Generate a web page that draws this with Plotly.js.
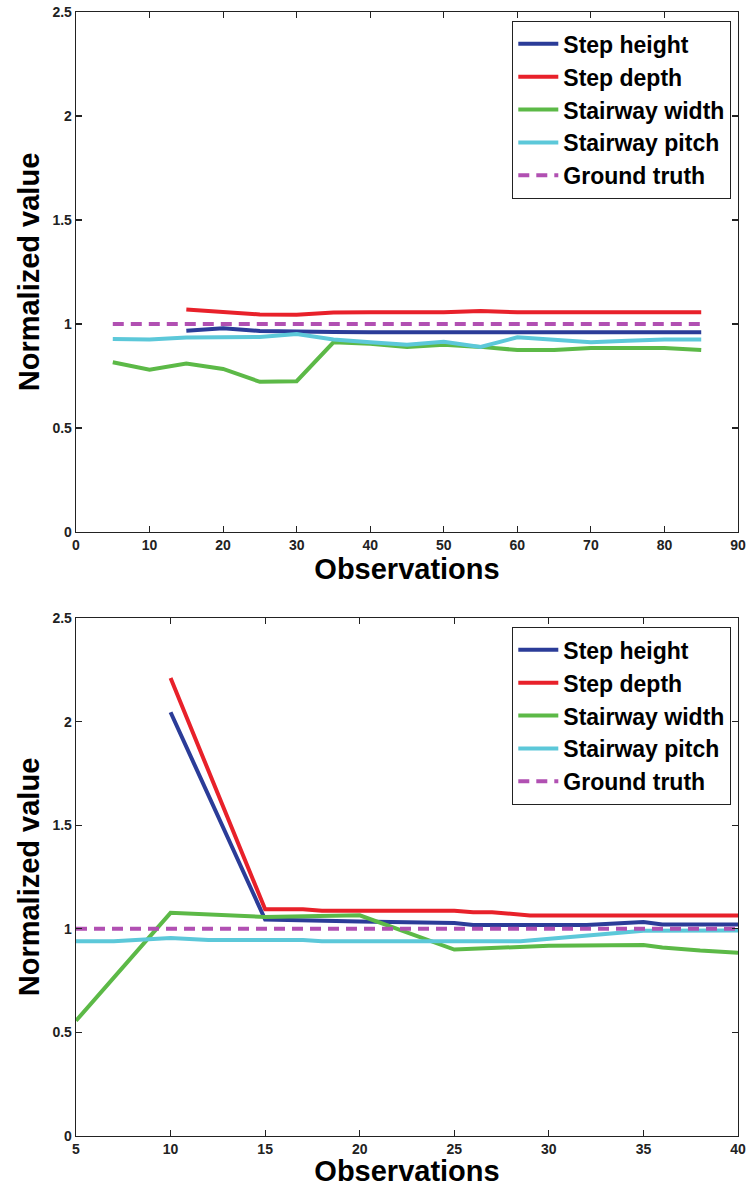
<!DOCTYPE html>
<html>
<head>
<meta charset="utf-8">
<script src="https://cdn.plot.ly/plotly-3.0.1.min.js"></script>
<style>html,body{margin:0;padding:0;background:#fff;}#chart{width:748px;height:1187px;}</style>
</head>
<body>
<div id="chart"></div>
<script>
// ---------- Top chart data ----------
const topX      = [5,10,15,20,25,30,35,40,45,50,55,60,65,70,75,80,85];
const topStepX  = [15,20,25,30,35,40,45,50,55,60,65,70,75,80,85];
const topHeight = [0.968,0.98,0.966,0.966,0.962,0.96,0.96,0.96,0.96,0.96,0.96,0.96,0.96,0.96,0.96];
const topDepth  = [1.07,1.058,1.046,1.045,1.055,1.056,1.056,1.056,1.063,1.056,1.056,1.056,1.056,1.056,1.056];
const topWidth  = [0.816,0.78,0.81,0.784,0.722,0.725,0.912,0.905,0.89,0.9,0.89,0.875,0.875,0.885,0.885,0.885,0.875];
const topPitch  = [0.928,0.925,0.935,0.936,0.938,0.952,0.925,0.912,0.9,0.915,0.89,0.936,0.925,0.912,0.92,0.926,0.926];
const topTruthX = [5,85];
const topTruth  = [1,1];

// ---------- Bottom chart data ----------
const botHeightX = [10,15,20,25,26,32,33,35,36,40];
const botHeight  = [2.045,1.045,1.035,1.028,1.018,1.018,1.023,1.033,1.021,1.021];
const botDepthX  = [10,15,17,18,25,26,27,28,29,40];
const botDepth   = [2.21,1.094,1.094,1.087,1.087,1.08,1.08,1.072,1.064,1.064];
const botWidthX  = [5,10,15,20,25,27,30,35,36,38,40];
const botWidth   = [0.556,1.077,1.057,1.065,0.9,0.908,0.918,0.922,0.91,0.895,0.885];
const botPitchX  = [5,7,10,12,17,18,28.5,30,32,34,35,40];
const botPitch   = [0.94,0.94,0.956,0.946,0.946,0.94,0.94,0.952,0.968,0.98,0.99,0.992];
const botTruthX  = [5,40];
const botTruth   = [1,1];

const names = ['Step height','Step depth','Stairway width','Stairway pitch','Ground truth'];
const yTickVals = [0,0.5,1,1.5,2,2.5];
const yTickText = ['0','0.5','1','1.5','2','2.5'];
const topTickVals = [0,10,20,30,40,50,60,70,80,90];
const botTickVals = [5,10,15,20,25,30,35,40];

const colors = ['#2b3c98','#e8212a','#5cb947','#5cc8d9','#b150b2'];
const LW = 4;
const FONT = 'Liberation Sans, Arial, Helvetica, sans-serif';

function mk(x, y, i, xa, ya, leg){
  return {
    x: x, y: y, name: names[i], type: 'scatter', mode: 'lines',
    xaxis: xa, yaxis: ya, legend: leg, legendgroup: leg + i,
    line: {color: colors[i], width: LW, dash: i === 4 ? '11px,7px' : 'solid'},
    hoverinfo: 'skip'
  };
}

const data = [
  mk(topStepX, topHeight, 0, 'x', 'y', 'legend'),
  mk(topStepX, topDepth, 1, 'x', 'y', 'legend'),
  mk(topX, topWidth, 2, 'x', 'y', 'legend'),
  mk(topX, topPitch, 3, 'x', 'y', 'legend'),
  mk(topTruthX, topTruth, 4, 'x', 'y', 'legend'),
  mk(botHeightX, botHeight, 0, 'x2', 'y2', 'legend2'),
  mk(botDepthX, botDepth, 1, 'x2', 'y2', 'legend2'),
  mk(botWidthX, botWidth, 2, 'x2', 'y2', 'legend2'),
  mk(botPitchX, botPitch, 3, 'x2', 'y2', 'legend2'),
  mk(botTruthX, botTruth, 4, 'x2', 'y2', 'legend2')
];

const H = 1187;
const tickFont = {family: FONT, size: 14, color: '#222', weight: 'bold'};
const titleFont = {family: FONT, size: 29, color: '#000', weight: 'bold'};

function xAxis(range, vals, anchor){
  return {
    range: range, tickvals: vals, ticktext: vals.map(String), domain: [0,1], anchor: anchor,
    showline: true, linecolor: '#222', linewidth: 1.3, mirror: 'ticks',
    ticks: 'inside', ticklen: 6, tickwidth: 1.2, tickcolor: '#222',
    showgrid: false, zeroline: false, tickfont: tickFont,
    title: {text: 'Observations', font: titleFont, standoff: 3},
    automargin: false
  };
}
function yAxis(dom, anchor){
  return {
    range: [0,2.5], tickvals: yTickVals, ticktext: yTickText, domain: dom, anchor: anchor,
    showline: true, linecolor: '#222', linewidth: 1.3, mirror: 'ticks',
    ticks: 'inside', ticklen: 6, tickwidth: 1.2, tickcolor: '#222',
    showgrid: false, zeroline: false, tickfont: tickFont,
    title: {text: 'Normalized value', font: titleFont, standoff: 4},
    automargin: false
  };
}
function legend(ytop){
  return {
    x: (731-76)/662, xanchor: 'right', y: ytop, yanchor: 'top',
    bgcolor: '#fff', bordercolor: '#222', borderwidth: 1.3,
    font: {family: FONT, size: 23, color: '#000', weight: 'bold'},
    tracegroupgap: 0, traceorder: 'grouped', itemwidth: 40
  };
}

const layout = {
  width: 748, height: H,
  margin: {l: 76, r: 10, t: 0, b: 0, pad: 0},
  paper_bgcolor: '#fff', plot_bgcolor: '#fff',
  showlegend: true,
  xaxis: xAxis([0,90], topTickVals, 'y'),
  yaxis: yAxis([(H-532)/H, (H-12)/H], 'x'),
  xaxis2: xAxis([5,40], botTickVals, 'y2'),
  yaxis2: yAxis([(H-1136)/H, (H-618)/H], 'x2'),
  legend: legend((H-21)/H),
  legend2: legend((H-627)/H)
};

Plotly.newPlot('chart', data, layout, {displayModeBar: false, staticPlot: true});
</script>
</body>
</html>
